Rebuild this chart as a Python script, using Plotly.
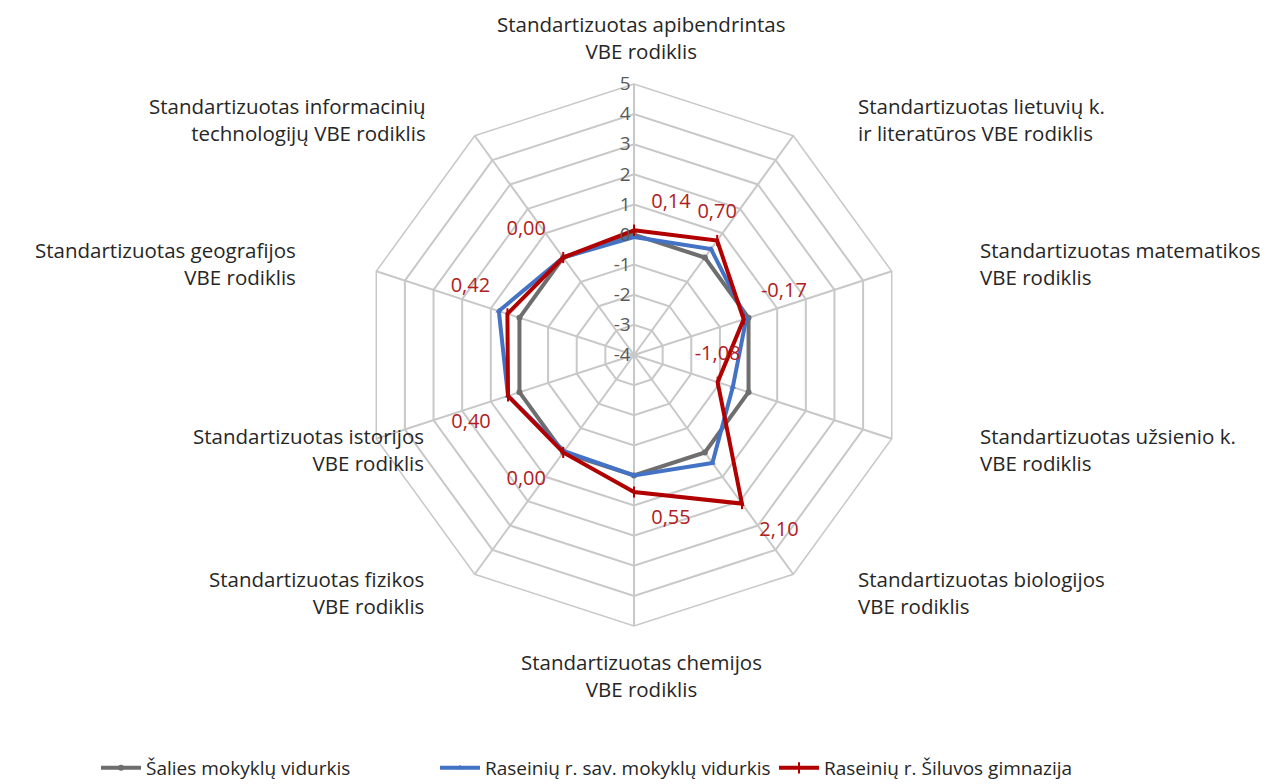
import plotly.graph_objects as go

categories = [
    "Standartizuotas apibendrintas<br>VBE rodiklis",
    "Standartizuotas lietuvių k.<br>ir literatūros VBE rodiklis",
    "Standartizuotas matematikos<br>VBE rodiklis",
    "Standartizuotas užsienio k.<br>VBE rodiklis",
    "Standartizuotas biologijos<br>VBE rodiklis",
    "Standartizuotas chemijos<br>VBE rodiklis",
    "Standartizuotas fizikos<br>VBE rodiklis",
    "Standartizuotas istorijos<br>VBE rodiklis",
    "Standartizuotas geografijos<br>VBE rodiklis",
    "Standartizuotas informacinių<br>technologijų VBE rodiklis",
]

salies = [0.00, 0.00, 0.00, 0.00, 0.00, 0.00, 0.00, 0.00, 0.00, 0.00]
raseiniu = [-0.08, 0.35, -0.08, -0.55, 0.43, 0.00, -0.05, 0.40, 0.72, 0.00]
siluvos = [0.14, 0.70, -0.17, -1.08, 2.10, 0.55, 0.00, 0.40, 0.42, 0.00]

series_names = [
    "Šalies mokyklų vidurkis",
    "Raseinių r. sav. mokyklų vidurkis",
    "Raseinių r. Šiluvos gimnazija",
]

radial_ticks = [-4, -3, -2, -1, 0, 1, 2, 3, 4, 5]
R_MIN, R_MAX = -4, 5

label_positions = [
    "top right", "top center", "top right", "top center", "bottom right",
    "bottom right", "bottom left", "bottom left", "top left", "top left",
]

GRID = "#C8C8C8"
FONT = "Open Sans"
W, H = 1278, 784


# plotly's polar hides markers/text when the radial range starts below zero,
# so the radial axis is offset by R_MIN and relabelled with the true values.
def radial(vals, close=True):
    out = [v - R_MIN for v in vals]
    return out + [out[0]] if close else out


theta = categories + [categories[0]]

fig = go.Figure()

fig.add_trace(go.Scatterpolar(
    r=radial(salies), theta=theta, name=series_names[0],
    mode="lines+markers",
    line=dict(color="#6E6E6E", width=4),
    marker=dict(symbol="circle", size=6, color="#6E6E6E"),
))
fig.add_trace(go.Scatterpolar(
    r=radial(raseiniu), theta=theta, name=series_names[1],
    mode="lines+markers",
    line=dict(color="#4472C4", width=4),
    marker=dict(symbol="triangle-up", size=6, color="#4472C4"),
))
fig.add_trace(go.Scatterpolar(
    r=radial(siluvos), theta=theta, name=series_names[2],
    mode="lines+markers",
    line=dict(color="#B00000", width=4),
    marker=dict(symbol="line-ns", size=8, color="#B00000",
                line=dict(color="#B00000", width=2)),
))
red_text = [f"{v:.2f}".replace(".", ",") for v in siluvos]
fig.add_trace(go.Scatterpolar(
    r=radial(siluvos, close=False), theta=categories, mode="markers+text",
    showlegend=False, hoverinfo="skip",
    marker=dict(size=26, opacity=0),
    text=red_text, textposition=label_positions,
    textfont=dict(family=FONT, size=20, color="#B02020"),
))

cx, cy, R = 626, 347, 271
fig.update_layout(
    width=W, height=H,
    margin=dict(l=0, r=0, t=0, b=0),
    paper_bgcolor="white",
    font=dict(family=FONT, color="#262626"),
    polar=dict(
        domain=dict(x=[(cx - R) / W, (cx + R) / W],
                    y=[1 - (cy + R) / H, 1 - (cy - R) / H]),
        bgcolor="white",
        gridshape="linear",
        angularaxis=dict(
            type="category", rotation=90, direction="clockwise",
            showticklabels=False, ticks="",
            showline=True, linecolor=GRID, linewidth=1.5,
            showgrid=True, gridcolor=GRID, gridwidth=1.5,
        ),
        radialaxis=dict(
            range=[0, R_MAX - R_MIN],
            tickvals=[t - R_MIN for t in radial_ticks],
            ticktext=[str(t) for t in radial_ticks],
            angle=90, tickangle=90,
            side="counterclockwise", showline=False, ticks="",
            showgrid=True, gridcolor=GRID, gridwidth=1.5,
            tickfont=dict(family=FONT, size=19, color="#595959"),
        ),
    ),
    showlegend=True,
    legend=dict(
        orientation="h", x=88 / W, xanchor="left", y=1 - 760 / H,
        yanchor="middle",
        font=dict(family=FONT, size=19, color="#262626"),
        itemwidth=40, entrywidth=284, entrywidthmode="pixels",
    ),
)

# category labels: (x, y, xanchor)
label_layout = [
    (633, 30, "center"),
    (848, 112, "left"),
    (970, 255, "left"),
    (970, 441, "left"),
    (848, 584, "left"),
    (633, 667, "center"),
    (418, 584, "right"),
    (418, 441, "right"),
    (290, 255, "right"),
    (420, 112, "right"),
]
for text, (x, y, xa) in zip(categories, label_layout):
    fig.add_annotation(
        x=x / W, y=1 - y / H, xref="paper", yref="paper",
        text=text, showarrow=False, xanchor=xa, yanchor="middle",
        align=xa,
        font=dict(family=FONT, size=20.5, color="#262626"),
    )

fig.write_html("out.html")
